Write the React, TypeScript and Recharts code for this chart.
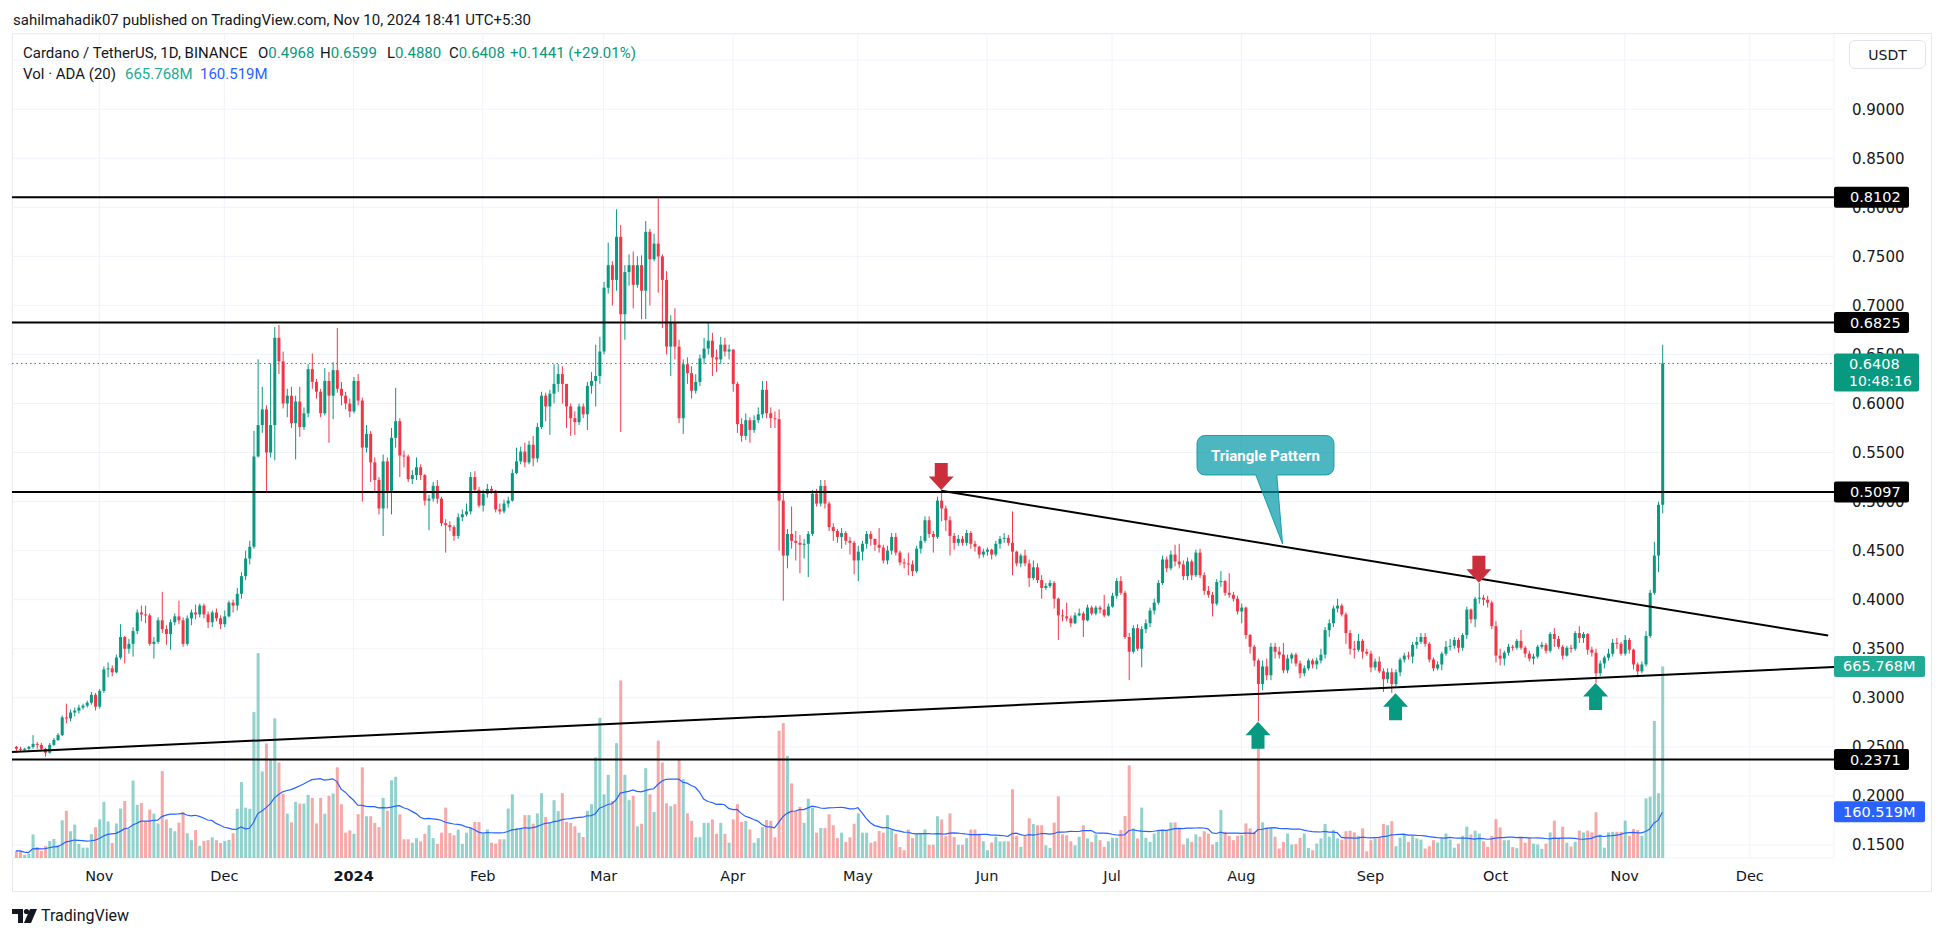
import React from 'react';
import { ComposedChart, Bar, Line, XAxis, YAxis, CartesianGrid, ReferenceLine, ReferenceDot } from 'recharts';

// one row per daily candle: [high, low, close, volume in millions]; open is the previous close
type Row = [number, number, number, number];

const oct23: Row[] = [
  [.251,.244,.248,25],[.250,.245,.247,25],[.249,.245,.248,11],[.251,.247,.250,15],[.262,.248,.253,82],
  [.255,.248,.252,38],[.254,.246,.248,25],[.249,.240,.244,41],[.254,.243,.252,59],[.259,.251,.257,66],
  [.264,.256,.262,45],[.282,.261,.280,131],[.294,.274,.279,164],[.288,.276,.285,93],[.290,.281,.287,116],
  [.293,.284,.290,49],[.294,.288,.292,36],[.297,.290,.295,36],[.306,.293,.303,83],[.305,.287,.291,107],
];
const nov23: Row[] = [
  [.309,.289,.307,134],[.332,.305,.329,195],[.336,.321,.330,127],[.333,.322,.326,52],[.344,.325,.341,120],
  [.375,.339,.362,172],[.363,.335,.350,198],[.360,.345,.355,102],[.372,.342,.368,269],[.390,.365,.387,185],
  [.394,.378,.385,191],[.394,.376,.384,127],[.386,.353,.355,168],[.362,.340,.357,154],[.382,.355,.379,120],
  [.408,.366,.370,302],[.374,.354,.365,134],[.380,.349,.377,104],[.386,.374,.383,93],[.399,.375,.379,123],
  [.382,.352,.355,161],[.384,.353,.381,86],[.390,.374,.387,62],[.395,.380,.385,97],[.396,.382,.394,42],
  [.396,.381,.385,59],[.388,.371,.377,62],[.389,.372,.387,72],[.391,.378,.381,62],[.384,.370,.375,52],
];
const dec23: Row[] = [
  [.389,.372,.383,59],[.399,.382,.397,63],[.400,.387,.394,86],[.412,.389,.406,171],[.428,.401,.424,264],
  [.450,.420,.442,175],[.460,.436,.454,171],[.572,.452,.546,507],[.645,.545,.578,712],[.617,.570,.594,301],
  [.598,.510,.550,398],[.641,.545,.578,342],[.678,.542,.667,485],[.680,.630,.643,332],[.653,.595,.600,223],
  [.615,.586,.608,154],[.617,.575,.580,124],[.608,.543,.602,195],[.617,.566,.576,189],[.596,.573,.590,189],
  [.640,.586,.635,219],[.651,.615,.622,209],[.625,.605,.612,120],[.615,.586,.590,209],[.636,.588,.623,154],
  [.632,.560,.608,216],[.642,.584,.634,224],[.677,.611,.615,315],[.622,.598,.608,187],[.612,.594,.600,88],
  [.605,.586,.592,96],
];
const jan24: Row[] = [
  [.627,.590,.623,84],[.630,.598,.603,152],[.606,.500,.555,315],[.578,.550,.569,145],[.572,.520,.540,145],
  [.545,.510,.522,122],[.525,.487,.493,107],[.548,.465,.541,209],[.545,.493,.511,164],[.575,.487,.565,270],
  [.616,.555,.582,282],[.585,.525,.547,152],[.552,.535,.546,65],[.548,.520,.523,65],[.532,.518,.527,53],
  [.545,.522,.535,69],[.538,.522,.527,58],[.528,.496,.501,84],[.507,.471,.503,114],[.520,.500,.516,69],
  [.522,.498,.503,49],[.505,.475,.478,88],[.482,.448,.476,175],[.480,.470,.474,87],[.476,.460,.465,79],
  [.488,.462,.484,99],[.492,.480,.487,49],[.498,.485,.490,88],[.530,.487,.525,107],[.531,.510,.512,125],
  [.515,.494,.496,125],
];
const feb24: Row[] = [
  [.512,.490,.508,84],[.518,.504,.513,99],[.516,.508,.511,53],[.512,.489,.492,50],[.498,.487,.490,65],
  [.502,.488,.498,65],[.505,.494,.501,172],[.533,.500,.529,221],[.555,.528,.541,104],[.556,.538,.551,104],
  [.560,.535,.540,149],[.562,.538,.558,149],[.567,.536,.544,119],[.580,.540,.576,155],[.612,.574,.608,225],
  [.611,.582,.597,142],[.614,.568,.610,122],[.640,.600,.620,201],[.640,.612,.630,163],[.638,.600,.620,225],
  [.620,.575,.597,126],[.600,.567,.585,122],[.592,.568,.581,110],[.600,.578,.597,88],[.600,.585,.589,73],
  [.622,.573,.618,164],[.632,.610,.623,187],[.660,.597,.628,350],[.668,.620,.653,487],
];
const mar24: Row[] = [
  [.724,.650,.718,221],[.764,.712,.741,289],[.745,.700,.726,198],[.798,.715,.770,399],[.782,.571,.691,617],
  [.741,.665,.734,289],[.752,.720,.741,201],[.755,.697,.721,216],[.750,.718,.741,110],[.751,.686,.715,119],
  [.786,.686,.775,312],[.778,.700,.747,221],[.773,.745,.763,160],[.809,.713,.750,408],[.752,.677,.726,332],
  [.735,.650,.658,190],[.690,.628,.682,180],[.697,.645,.658,187],[.665,.580,.585,343],[.645,.569,.640,274],
  [.647,.620,.631,155],[.638,.605,.613,129],[.630,.610,.622,72],[.650,.618,.646,72],[.667,.640,.656,122],
  [.683,.650,.664,122],[.672,.628,.647,134],[.655,.632,.645,84],[.668,.640,.660,122],[.667,.648,.653,84],
  [.660,.645,.655,53],
];
const apr24: Row[] = [
  [.655,.612,.620,134],[.622,.570,.579,187],[.585,.561,.567,125],[.590,.563,.583,129],[.586,.560,.573,99],
  [.588,.570,.583,53],[.596,.580,.589,69],[.623,.585,.614,107],[.623,.585,.590,132],[.596,.575,.585,129],
  [.592,.575,.584,72],[.594,.450,.501,442],[.510,.399,.445,469],[.472,.432,.467,355],[.495,.452,.460,259],
  [.470,.440,.458,163],[.466,.427,.456,178],[.462,.442,.457,122],[.470,.423,.467,206],[.512,.465,.508,175],
  [.513,.495,.498,88],[.522,.495,.516,104],[.522,.493,.498,104],[.500,.470,.474,152],[.478,.460,.470,114],
  [.472,.458,.464,69],[.473,.452,.468,88],[.470,.456,.460,56],[.464,.446,.458,72],[.460,.426,.440,119],
];
const may24: Row[] = [
  [.455,.419,.449,155],[.460,.440,.457,88],[.470,.452,.467,88],[.470,.455,.462,53],[.462,.450,.456,58],
  [.473,.448,.453,94],[.456,.437,.440,88],[.455,.436,.450,149],[.468,.446,.464,99],[.468,.445,.448,84],
  [.450,.435,.438,38],[.442,.432,.437,27],[.448,.425,.436,99],[.440,.424,.429,69],[.455,.427,.452,84],
  [.465,.447,.460,84],[.485,.458,.481,99],[.485,.463,.467,46],[.470,.448,.464,46],[.505,.462,.501,145],
  [.511,.480,.493,134],[.496,.470,.481,76],[.485,.445,.465,155],[.468,.451,.458,73],[.466,.455,.462,46],
  [.465,.455,.458,46],[.471,.455,.468,69],[.470,.452,.457,99],[.460,.449,.454,99],[.455,.442,.446,84],
  [.452,.443,.449,58],
];
const jun24: Row[] = [
  [.453,.445,.451,27],[.452,.441,.446,54],[.460,.444,.457,74],[.465,.452,.462,58],[.468,.458,.463,58],
  [.466,.455,.458,58],[.490,.425,.449,239],[.450,.434,.437,77],[.447,.433,.445,39],[.451,.434,.437,77],
  [.441,.413,.422,138],[.440,.420,.433,118],[.437,.417,.420,114],[.425,.401,.412,114],[.417,.410,.414,44],
  [.420,.412,.417,35],[.419,.391,.401,123],[.402,.359,.384,214],[.390,.378,.383,82],[.397,.378,.381,79],
  [.384,.372,.376,58],[.387,.375,.384,44],[.391,.383,.386,74],[.388,.362,.379,114],[.395,.378,.392,68],
  [.394,.384,.386,56],[.394,.384,.392,82],[.394,.386,.390,62],[.405,.382,.384,39],[.396,.383,.393,58],
];
const jul24: Row[] = [
  [.407,.392,.404,70],[.422,.401,.419,70],[.424,.405,.407,97],[.409,.360,.362,146],[.366,.318,.347,322],
  [.374,.345,.371,103],[.375,.348,.350,68],[.373,.331,.370,175],[.380,.366,.376,70],[.392,.372,.389,56],
  [.401,.385,.397,85],[.420,.395,.417,97],[.445,.415,.441,97],[.444,.428,.432,97],[.450,.430,.446,123],
  [.456,.434,.439,124],[.457,.432,.436,103],[.440,.420,.424,47],[.443,.420,.439,68],[.441,.420,.425,56],
  [.451,.423,.448,82],[.452,.422,.425,74],[.428,.405,.409,93],[.414,.402,.405,85],[.408,.383,.396,47],
  [.421,.394,.418,56],[.429,.413,.419,167],[.420,.404,.407,91],[.427,.402,.405,77],[.408,.398,.401,62],
  [.404,.385,.388,77],
];
const aug24: Row[] = [
  [.396,.376,.392,79],[.393,.360,.364,120],[.365,.345,.352,103],[.354,.332,.338,91],[.340,.276,.314,400],
  [.338,.308,.332,124],[.340,.318,.323,106],[.356,.318,.352,105],[.356,.340,.347,74],[.352,.340,.344,33],
  [.356,.325,.328,56],[.344,.325,.340,85],[.346,.335,.344,47],[.346,.332,.335,48],[.338,.320,.325,70],
  [.333,.322,.330,85],[.340,.328,.338,35],[.340,.330,.334,27],[.341,.329,.338,50],[.350,.335,.344,68],
  [.372,.340,.369,118],[.380,.362,.376,74],[.394,.372,.391,97],[.401,.387,.394,68],[.396,.383,.385,64],
  [.387,.355,.366,93],[.369,.344,.350,95],[.358,.340,.349,89],[.365,.347,.358,77],[.360,.340,.347,103],
  [.350,.343,.345,23],
];
const sep24: Row[] = [
  [.348,.326,.331,62],[.340,.328,.337,68],[.342,.325,.327,71],[.330,.306,.319,118],[.330,.315,.326,114],
  [.330,.305,.314,128],[.329,.312,.326,41],[.341,.322,.339,71],[.346,.336,.343,83],[.347,.339,.342,56],
  [.357,.335,.354,76],[.362,.350,.357,68],[.366,.355,.362,64],[.366,.352,.355,33],[.357,.336,.339,41],
  [.341,.327,.330,62],[.337,.328,.334,54],[.347,.328,.345,68],[.358,.343,.352,85],[.360,.348,.353,64],
  [.362,.350,.359,36],[.361,.346,.351,50],[.366,.348,.364,77],[.393,.360,.390,109],[.391,.376,.380,82],
  [.403,.372,.401,95],[.417,.396,.402,85],[.405,.394,.400,58],[.404,.392,.397,39],[.399,.370,.373,77],
];
const oct24: Row[] = [
  [.378,.336,.343,135],[.350,.333,.340,106],[.348,.333,.346,62],[.355,.343,.352,62],[.354,.348,.351,38],
  [.360,.349,.358,34],[.369,.349,.351,71],[.353,.341,.345,53],[.348,.337,.340,71],[.345,.334,.342,50],
  [.354,.340,.352,47],[.357,.350,.354,32],[.356,.345,.348,50],[.367,.346,.365,89],[.371,.352,.360,130],
  [.363,.350,.352,71],[.354,.339,.343,109],[.353,.342,.351,53],[.354,.346,.350,40],[.368,.348,.366,56],
  [.373,.356,.361,95],[.367,.356,.365,89],[.366,.344,.349,95],[.352,.342,.346,89],[.350,.315,.325,159],
  [.338,.322,.335,82],[.343,.330,.341,36],[.350,.338,.345,89],[.360,.342,.356,91],[.361,.350,.355,91],
  [.357,.343,.345,91],
];
const nov24: Row[] = [
  [.364,.343,.359,130],[.361,.345,.349,77],[.350,.329,.334,101],[.336,.321,.327,97],[.337,.325,.334,77],
  [.368,.332,.363,207],[.410,.361,.407,213],[.459,.405,.445,476],[.500,.428,.4968,225],[.6599,.4880,.6408,665.768],
];

const firstOpen = 0.250;
const startDay = -20; // Oct 12 2023, days counted from Nov 1 2023

const monthTicks = [0, 30, 61, 92, 121, 152, 182, 213, 243, 274, 305, 335, 366, 396];
const monthLabels = ['Nov', 'Dec', '2024', 'Feb', 'Mar', 'Apr', 'May', 'Jun', 'Jul', 'Aug', 'Sep', 'Oct', 'Nov', 'Dec'];
const priceTicks = [0.15, 0.2, 0.25, 0.3, 0.35, 0.4, 0.45, 0.5, 0.55, 0.6, 0.65, 0.7, 0.75, 0.8, 0.85, 0.9];
const gridTicks = [...priceTicks, 0.95];

const levels = [0.8102, 0.6825, 0.5097, 0.2371];
const lastPrice = 0.6408;
const lastVol = 665.768;
const lastMa = 160.519;
const supportLine = [{ x: -20.95, y: 0.2448 }, { x: 416.2, y: 0.3315 }];
const resistLine = [{ x: 202, y: 0.5111 }, { x: 414.8, y: 0.3634 }];
const downArrows = [{ x: 202, y: 0.5118 }, { x: 331, y: 0.4173 }];
const upArrows = [{ x: 278, y: 0.2757 }, { x: 311, y: 0.3046 }, { x: 359, y: 0.3151 }];
const callout = { x: 283.9, y: 0.4568, text: 'Triangle Pattern' };

const rows = [oct23, nov23, dec23, jan24, feb24, mar24, apr24, may24, jun24, jul24, aug24, sep24, oct24, nov24].flat();
const data = rows.map((r, i) => {
  const open = i === 0 ? firstOpen : rows[i - 1][2];
  const high = Math.max(r[0], open, r[2]);
  const low = Math.min(r[1], open, r[2]);
  const win = rows.slice(Math.max(0, i - 19), i + 1).map((q) => q[3]);
  return {
    day: startDay + i,
    open, high, low, close: r[2],
    range: [low, high],
    volume: r[3],
    ma: win.reduce((a, b) => a + b, 0) / win.length,
  };
});

const W = 1946;
const H = 937;
const PLOT_RIGHT = 1834;
const PLOT_BOTTOM = 858;
const X_DOMAIN: [number, number] = [-20.95, 416.2];
const P_DOMAIN: [number, number] = [0.1367, 0.97666];
const V_DOMAIN: [number, number] = [0, 2863];

const UP = '#089981';
const DOWN = '#f23645';
const VOL_UP = 'rgba(38,166,154,0.5)';
const VOL_DN = 'rgba(239,83,80,0.5)';
const TXT = '#131722';
const AXIS_FONT = '"DejaVu Sans", sans-serif';
const UI_FONT = 'Roboto, sans-serif';

const Candle = (p: any) => {
  const { x, y, width, height, payload } = p;
  if (x == null || !payload) return <g />;
  const top = Math.min(y, y + height);
  const h = Math.abs(height);
  const span = payload.high - payload.low;
  const toY = (v: number) => (span > 0 ? top + ((payload.high - v) / span) * h : top);
  const color = payload.close >= payload.open ? UP : DOWN;
  const bTop = toY(Math.max(payload.open, payload.close));
  const bBot = toY(Math.min(payload.open, payload.close));
  const cx = x + width / 2;
  return (
    <g>
      <line x1={cx} x2={cx} y1={top} y2={top + h} stroke={color} strokeWidth={1} />
      <rect x={x} y={bTop} width={width} height={Math.max(1, bBot - bTop)} fill={color} />
    </g>
  );
};

const VolBar = (p: any) => {
  const { x, y, width, height, payload } = p;
  if (x == null || !payload) return <g />;
  return (
    <rect x={x} y={Math.min(y, y + height)} width={width} height={Math.abs(height)}
      fill={payload.close >= payload.open ? VOL_UP : VOL_DN} />
  );
};

const PriceTick = ({ y, payload }: any) => {
  if (payload.value > 0.91) return <g />;
  return (
    <text x={PLOT_RIGHT + 18} y={y} dy={5.5} fill={TXT} fontSize={15} fontFamily={AXIS_FONT}>
      {payload.value.toFixed(4)}
    </text>
  );
};

const MonthTick = ({ x, payload }: any) => {
  const label = monthLabels[monthTicks.indexOf(payload.value)];
  return (
    <text x={x} y={PLOT_BOTTOM + 23} textAnchor="middle" fill={TXT} fontSize={14.5}
      fontFamily={AXIS_FONT} fontWeight={label === '2024' ? 700 : 400}>
      {label}
    </text>
  );
};

const tag = (text: string, bg: string, w: number, dx: number, sub?: string) => (p: any) => {
  const { cx, cy } = p;
  const h = sub ? 38 : 21;
  const top = sub ? cy - 10 : cy - h / 2;
  return (
    <g>
      <rect x={cx} y={top} width={w} height={h} fill={bg} rx={2} />
      <text x={cx + dx} y={top + 15.5} fill="#fff" fontSize={14.5} fontFamily={AXIS_FONT}>{text}</text>
      {sub && <text x={cx + dx} y={top + 33} fill="#fff" fontSize={14} fontFamily={AXIS_FONT}>{sub}</text>}
    </g>
  );
};

const DownArrow = ({ cx, cy }: any) => (
  <path d={`M${cx - 6.5},${cy - 27} H${cx + 6.5} V${cy - 13.5} H${cx + 12.5} L${cx},${cy} L${cx - 12.5},${cy - 13.5} H${cx - 6.5} Z`} fill="#cc2f3c" />
);

const UpArrow = ({ cx, cy }: any) => (
  <path d={`M${cx},${cy} L${cx + 12.5},${cy + 13.5} H${cx + 6.5} V${cy + 27} H${cx - 6.5} V${cy + 13.5} H${cx - 12.5} Z`} fill={UP} />
);

const Callout = ({ cx, cy }: any) => {
  const x0 = cx - 85.6, x1 = cx + 51.4, y0 = cy - 108.5, y1 = cy - 69, r = 8;
  const d = `M${x0 + r},${y0} H${x1 - r} A${r},${r} 0 0 1 ${x1},${y0 + r} V${y1 - r} A${r},${r} 0 0 1 ${x1 - r},${y1} ` +
    `H${cx - 5.8} L${cx},${cy} L${cx - 26.8},${y1} H${x0 + r} A${r},${r} 0 0 1 ${x0},${y1 - r} V${y0 + r} A${r},${r} 0 0 1 ${x0 + r},${y0} Z`;
  return (
    <g>
      <path d={d} fill="rgba(0,151,167,0.7)" stroke="rgba(0,151,167,0.85)" strokeWidth={1} />
      <text x={(x0 + x1) / 2} y={(y0 + y1) / 2 + 5.5} textAnchor="middle" fill="#fff" fontSize={15}
        fontWeight={700} fontFamily={UI_FONT}>{callout.text}</text>
    </g>
  );
};

function Legend() {
  const val = { color: UP };
  const row = { position: 'absolute' as const, whiteSpace: 'nowrap' as const, fontFamily: UI_FONT, fontSize: 15, color: TXT };
  return (
    <>
      <div style={{ ...row, left: 13, top: 11 }}>sahilmahadik07 published on TradingView.com, Nov 10, 2024 18:41 UTC+5:30</div>
      <div style={{ ...row, left: 23, top: 44 }}>Cardano / TetherUS, 1D, BINANCE</div>
      <div style={{ ...row, left: 258, top: 44 }}>O<span style={val}>0.4968</span></div>
      <div style={{ ...row, left: 320, top: 44 }}>H<span style={val}>0.6599</span></div>
      <div style={{ ...row, left: 387, top: 44 }}>L<span style={val}>0.4880</span></div>
      <div style={{ ...row, left: 449, top: 44 }}>C<span style={val}>0.6408</span></div>
      <div style={{ ...row, left: 510, top: 44, color: UP }}>+0.1441 (+29.01%)</div>
      <div style={{ ...row, left: 23, top: 65 }}>Vol · ADA (20)</div>
      <div style={{ ...row, left: 125, top: 65, color: '#22ab94' }}>665.768M</div>
      <div style={{ ...row, left: 200, top: 65, color: '#2962ff' }}>160.519M</div>
    </>
  );
}

export default function App() {
  return (
    <div style={{ position: 'absolute', left: 0, top: 0, width: W, height: H, background: '#fff', overflow: 'hidden' }}>
      <div style={{ position: 'absolute', left: 12, top: 33, width: 1920, height: 859, border: '1px solid #e6e8ee', boxSizing: 'border-box' }} />

      <div style={{ position: 'absolute', left: 0, top: 0 }}>
        <ComposedChart width={W} height={H} data={data} margin={{ top: 34, right: 14, bottom: 45, left: 12 }}>
          <CartesianGrid yAxisId="price" stroke="#f0f3fa" />
          <XAxis type="number" dataKey="day" domain={X_DOMAIN} ticks={monthTicks} interval={0} allowDataOverflow
            height={34} axisLine={false} tickLine={false} tickSize={0} tickMargin={0} tick={<MonthTick />} />
          <YAxis yAxisId="price" orientation="right" width={98} domain={P_DOMAIN} ticks={gridTicks} allowDataOverflow
            axisLine={false} tickLine={false} tick={<PriceTick />} />
          <YAxis yAxisId="vol" domain={V_DOMAIN} hide allowDataOverflow />
          <Bar yAxisId="vol" dataKey="volume" barSize={3} shape={VolBar} isAnimationActive={false} />
          <Line yAxisId="vol" dataKey="ma" type="linear" stroke="#2962ff" strokeWidth={1.2} dot={false} isAnimationActive={false} />
        </ComposedChart>
      </div>

      <div style={{ position: 'absolute', left: 0, top: 0 }}>
        <ComposedChart width={W} height={H} data={data} margin={{ top: 34, right: 112, bottom: 79, left: 12 }}>
          <XAxis type="number" dataKey="day" domain={X_DOMAIN} hide allowDataOverflow />
          <YAxis yAxisId="price" domain={P_DOMAIN} hide allowDataOverflow />
          <YAxis yAxisId="vol" domain={V_DOMAIN} hide allowDataOverflow />
          <Bar yAxisId="price" dataKey="range" barSize={3} shape={Candle} isAnimationActive={false} />
          <ReferenceLine yAxisId="price" y={lastPrice} stroke={UP} strokeDasharray="1.5 3" strokeWidth={1} />
          {levels.map((l) => (
            <ReferenceLine key={l} yAxisId="price" y={l} stroke="#000" strokeWidth={2} />
          ))}
          <ReferenceLine yAxisId="price" segment={supportLine} stroke="#000" strokeWidth={2} ifOverflow="visible" />
          <ReferenceLine yAxisId="price" segment={resistLine} stroke="#000" strokeWidth={2} ifOverflow="visible" />
          {downArrows.map((a) => (
            <ReferenceDot key={a.x} yAxisId="price" x={a.x} y={a.y} ifOverflow="visible" shape={DownArrow} />
          ))}
          {upArrows.map((a) => (
            <ReferenceDot key={a.x} yAxisId="price" x={a.x} y={a.y} ifOverflow="visible" shape={UpArrow} />
          ))}
          <ReferenceDot yAxisId="price" x={callout.x} y={callout.y} ifOverflow="visible" shape={Callout} />
          {levels.map((l) => (
            <ReferenceDot key={'t' + l} yAxisId="price" x={X_DOMAIN[1]} y={l} ifOverflow="visible"
              shape={tag(l.toFixed(4), '#000', 75, 16)} />
          ))}
          <ReferenceDot yAxisId="price" x={X_DOMAIN[1]} y={lastPrice} ifOverflow="visible"
            shape={tag(lastPrice.toFixed(4), UP, 85, 15, '10:48:16')} />
          <ReferenceDot yAxisId="vol" x={X_DOMAIN[1]} y={lastVol} ifOverflow="visible"
            shape={tag(lastVol.toFixed(3) + 'M', '#22ab94', 91, 9)} />
          <ReferenceDot yAxisId="vol" x={X_DOMAIN[1]} y={lastMa} ifOverflow="visible"
            shape={tag(lastMa.toFixed(3) + 'M', '#2962ff', 91, 9)} />
        </ComposedChart>
      </div>

      <Legend />

      <div style={{ position: 'absolute', left: 1849, top: 40, width: 77, height: 29, border: '1px solid #e0e3eb', borderRadius: 6,
        boxSizing: 'border-box', fontFamily: AXIS_FONT, fontSize: 14, color: TXT, display: 'flex', alignItems: 'center', justifyContent: 'center' }}>
        USDT
      </div>

      <svg style={{ position: 'absolute', left: 12, top: 908 }} width={26} height={16}>
        <path d="M0,1 H11 V15 H6 V6 H0 Z" fill={TXT} />
        <circle cx={14.5} cy={3.5} r={2.6} fill={TXT} />
        <path d="M18,1 H25 L19,15 H12 Z" fill={TXT} />
      </svg>
      <div style={{ position: 'absolute', left: 41, top: 906, fontFamily: UI_FONT, fontSize: 16, color: TXT }}>TradingView</div>
    </div>
  );
}
